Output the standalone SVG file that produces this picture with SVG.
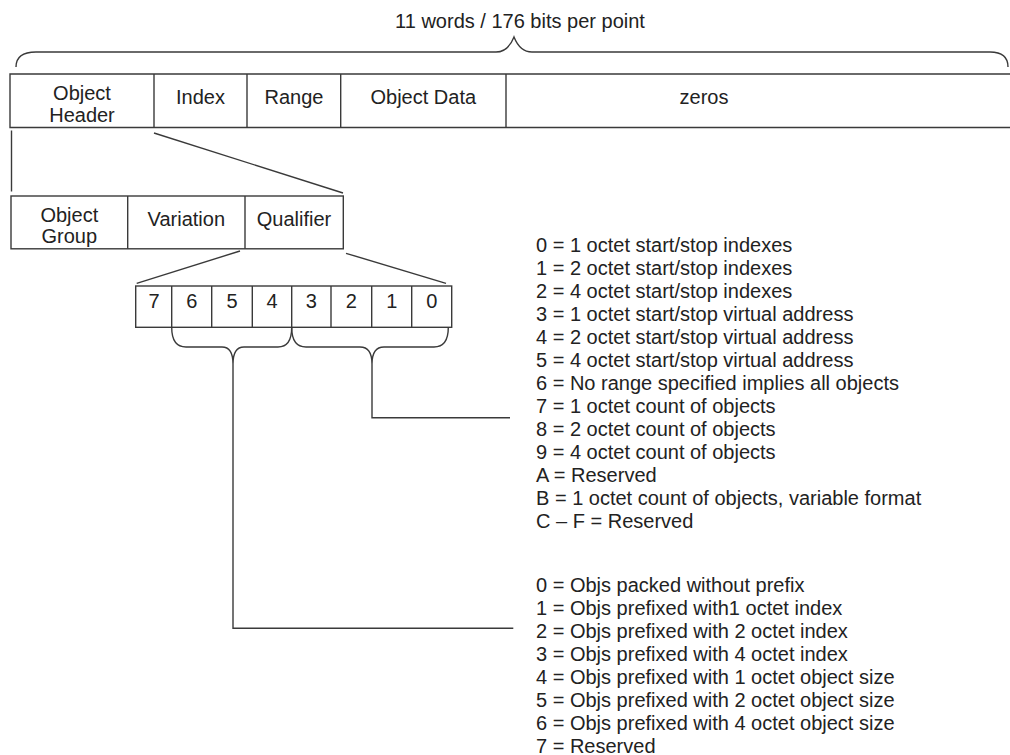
<svg xmlns="http://www.w3.org/2000/svg" width="1010" height="755" viewBox="0 0 1010 755">
<style>
.bx{fill:#fff;stroke:#3a3a3a;stroke-width:1.4}
.ln{fill:none;stroke:#3a3a3a;stroke-width:1.4}
text{font-family:"Liberation Sans",Arial,sans-serif;font-size:20px;fill:#222}
.c{text-anchor:middle}
</style>
<rect width="1010" height="755" fill="#fff"/>
<g id="title">
<text class="c" x="520" y="28">11 words / 176 bits per point</text>
<path class="ln" d="M16,67 Q16,52 36,52 L496,52 Q508,52 514,37 Q520,52 532,52 L990,52 Q1008,52 1008,67"/>
</g>
<g id="point-row">
<path class="ln" d="M1012,74 H10 V127.5 H1012"/>
<line class="ln" x1="154" y1="74" x2="154" y2="127.5"/>
<line class="ln" x1="247" y1="74" x2="247" y2="127.5"/>
<line class="ln" x1="340.7" y1="74" x2="340.7" y2="127.5"/>
<line class="ln" x1="506" y1="74" x2="506" y2="127.5"/>
<text class="c" x="82" y="99.5">Object</text>
<text class="c" x="82" y="121.5">Header</text>
<text class="c" x="200.5" y="104">Index</text>
<text class="c" x="294" y="104">Range</text>
<text class="c" x="423.3" y="104">Object Data</text>
<text class="c" x="704" y="103.5">zeros</text>
</g>
<g id="header-row">
<rect class="bx" x="11" y="196" width="332.3" height="52.8"/>
<line class="ln" x1="127.7" y1="196" x2="127.7" y2="248.8"/>
<line class="ln" x1="245" y1="196" x2="245" y2="248.8"/>
<text class="c" x="69.3" y="221.5">Object</text>
<text class="c" x="69.3" y="243">Group</text>
<text class="c" x="186.3" y="226">Variation</text>
<text class="c" x="294" y="226">Qualifier</text>
</g>
<g id="qualifier-bits">
<rect class="bx" x="135.7" y="286" width="316" height="41.3"/>
<line class="ln" x1="171.7" y1="286" x2="171.7" y2="327.3"/>
<line class="ln" x1="211.7" y1="286" x2="211.7" y2="327.3" stroke-width="2.2"/>
<line class="ln" x1="252.3" y1="286" x2="252.3" y2="327.3"/>
<line class="ln" x1="291.7" y1="286" x2="291.7" y2="327.3"/>
<line class="ln" x1="331" y1="286" x2="331" y2="327.3"/>
<line class="ln" x1="371.7" y1="286" x2="371.7" y2="327.3"/>
<line class="ln" x1="411.7" y1="286" x2="411.7" y2="327.3"/>
<text class="c" x="154" y="308">7</text>
<text class="c" x="191.7" y="308">6</text>
<text class="c" x="232" y="308">5</text>
<text class="c" x="272" y="308">4</text>
<text class="c" x="311.3" y="308">3</text>
<text class="c" x="351.3" y="308">2</text>
<text class="c" x="391.7" y="308">1</text>
<text class="c" x="431.7" y="308">0</text>
</g>
<g id="range-codes">
<text x="536" y="252">0 = 1 octet start/stop indexes</text>
<text x="536" y="275">1 = 2 octet start/stop indexes</text>
<text x="536" y="298">2 = 4 octet start/stop indexes</text>
<text x="536" y="321">3 = 1 octet start/stop virtual address</text>
<text x="536" y="344">4 = 2 octet start/stop virtual address</text>
<text x="536" y="367">5 = 4 octet start/stop virtual address</text>
<text x="536" y="390">6 = No range specified implies all objects</text>
<text x="536" y="413">7 = 1 octet count of objects</text>
<text x="536" y="436">8 = 2 octet count of objects</text>
<text x="536" y="459">9 = 4 octet count of objects</text>
<text x="536" y="482">A = Reserved</text>
<text x="536" y="505">B = 1 octet count of objects, variable format</text>
<text x="536" y="528">C – F = Reserved</text>
</g>
<g id="prefix-codes">
<text x="536" y="591.5">0 = Objs packed without prefix</text>
<text x="536" y="614.5">1 = Objs prefixed with1 octet index</text>
<text x="536" y="637.5">2 = Objs prefixed with 2 octet index</text>
<text x="536" y="660.5">3 = Objs prefixed with 4 octet index</text>
<text x="536" y="683.5">4 = Objs prefixed with 1 octet object size</text>
<text x="536" y="706.5">5 = Objs prefixed with 2 octet object size</text>
<text x="536" y="729.5">6 = Objs prefixed with 4 octet object size</text>
<text x="536" y="752.5">7 = Reserved</text>
</g>
<g id="connectors">
<line class="ln" x1="11.5" y1="130.5" x2="11.5" y2="191.5"/>
<line class="ln" x1="154" y1="133" x2="343" y2="193"/>
<line class="ln" x1="240" y1="251" x2="136.7" y2="283.3"/>
<line class="ln" x1="346" y1="253.3" x2="446" y2="283.3"/>
<path class="ln" d="M171.7,327.3 Q171.7,347 186,347 L222,347 Q233,347 233,364 Q233,347 244,347 L278,347 Q291.7,347 291.7,327.3"/>
<path class="ln" d="M291.7,327.3 Q291.7,347 306,347 L360,347 Q372,347 372,364 Q372,347 384,347 L434,347 Q448.3,347 448.3,327.3"/>
<path class="ln" d="M233,364 V628.3 H513.3"/>
<path class="ln" d="M372,364 V417.7 H510"/>
</g>
</svg>
